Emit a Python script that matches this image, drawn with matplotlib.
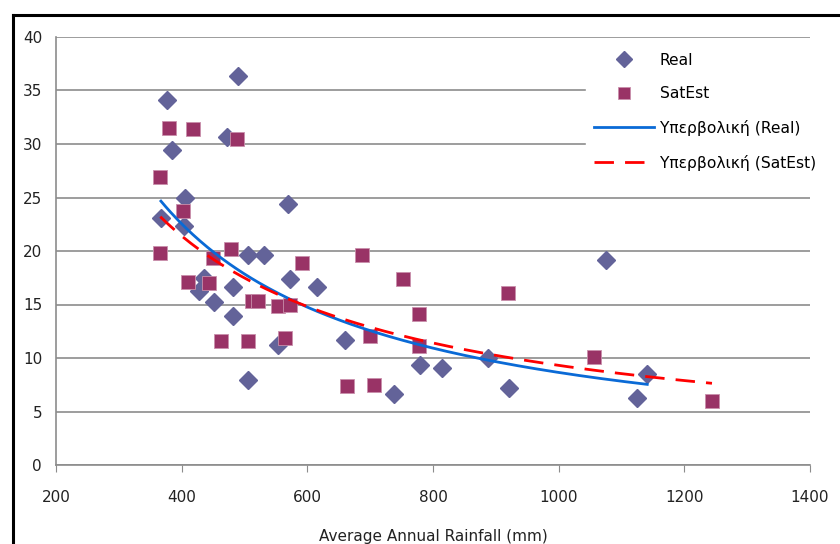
import numpy as np
import matplotlib
matplotlib.use("Agg")
import matplotlib.pyplot as plt
from matplotlib.lines import Line2D

# values
real_x = [489, 377, 384, 472, 406, 569, 367, 404, 506, 531, 435, 428, 482, 573,
          616, 451, 481, 554, 505, 660, 779, 815, 888, 738, 921, 1076, 1141, 1125]
real_y = [36.4, 34.1, 29.4, 30.7, 25.0, 24.4, 23.1, 22.3, 19.6, 19.6, 17.5, 16.3, 16.6, 17.4,
          16.6, 15.2, 13.9, 11.2, 7.9, 11.7, 9.3, 9.1, 10.0, 6.6, 7.2, 19.2, 8.5, 6.3]

sat_x = [380, 418, 488, 366, 402, 366, 478, 591, 450, 410, 443, 512, 522, 554,
         573, 462, 505, 565, 687, 752, 920, 778, 700, 778, 663, 706, 1056, 1244]
sat_y = [31.5, 31.4, 30.5, 26.9, 23.7, 19.8, 20.2, 18.9, 19.3, 17.1, 17.0, 15.3, 15.3, 14.9,
         15.0, 11.6, 11.6, 11.9, 19.6, 17.4, 16.1, 14.1, 12.1, 11.1, 7.4, 7.5, 10.1, 6.0]

x_ticks = [200, 400, 600, 800, 1000, 1200, 1400]
y_ticks = [0, 5, 10, 15, 20, 25, 30, 35, 40]

real_col = '#636399'
sat_col = '#993366'
grid_col = '#8c8c8c'


def power_fit(x, y):
    # least squares on log-log, same as an Excel power trendline
    b, lna = np.polyfit(np.log(x), np.log(y), 1)
    xs = np.linspace(min(x), max(x), 200)
    return xs, np.exp(lna) * xs ** b


fig = plt.figure(figsize=(8.4, 5.44), dpi=100)
ax = fig.add_axes([56/840, 79/544, 754/840, 428/544])

ax.plot(real_x, real_y, 'D', color=real_col, markersize=9.5, markeredgecolor=real_col,
        label='Real', zorder=3)
ax.plot(sat_x, sat_y, 's', color=sat_col, markersize=10, markeredgecolor='#c98fab',
        markeredgewidth=0.6, label='SatEst', zorder=3)

fx, fy = power_fit(real_x, real_y)
ax.plot(fx, fy, color='#0a6ad6', lw=2, label='Υπερβολική (Real)', zorder=4)
fx, fy = power_fit(sat_x, sat_y)
ax.plot(fx, fy, color='#ff0000', lw=2, dashes=(7, 4), label='Υπερβολική (SatEst)', zorder=4)

ax.set_xlim(200, 1400)
ax.set_ylim(0, 40)
ax.set_xticks(x_ticks)
ax.set_yticks(y_ticks)
ax.grid(axis='y', color=grid_col, lw=1.2)
ax.set_axisbelow(True)
for s in ['top', 'right']:
    ax.spines[s].set_visible(False)
for s in ['left', 'bottom']:
    ax.spines[s].set_color(grid_col)
    ax.spines[s].set_linewidth(1.2)
ax.tick_params(axis='y', length=0, pad=10, labelsize=11, labelcolor='#222222')
ax.tick_params(axis='x', length=5, color=grid_col, pad=13, labelsize=11, labelcolor='#222222')
ax.set_xlabel('Average Annual Rainfall (mm)', fontsize=11, labelpad=17, color='#222222')

leg = ax.legend(loc='upper left', bbox_to_anchor=(578/840, 507/544),
                bbox_transform=fig.transFigure, fontsize=11.2, frameon=True,
                handlelength=3.9, handletextpad=0.35, labelspacing=1.2,
                borderpad=0.5, fancybox=False, markerscale=0.85)
leg.get_frame().set_facecolor('white')
leg.get_frame().set_edgecolor('white')
leg.get_frame().set_alpha(1)

# black frame around chart (top and left edges are visible)
fig.add_artist(Line2D([13/840, 1], [1 - 15/544, 1 - 15/544], color='black', lw=2.2,
                      transform=fig.transFigure))
fig.add_artist(Line2D([13/840, 13/840], [0, 1 - 15/544], color='black', lw=2.2,
                      transform=fig.transFigure))

fig.savefig('out.png', dpi=100)
